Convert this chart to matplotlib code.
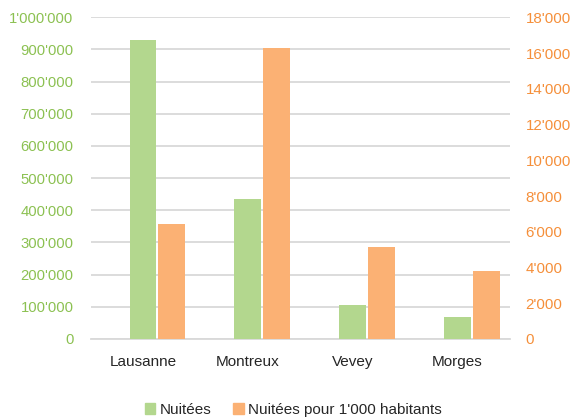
import matplotlib
matplotlib.use("Agg")
import matplotlib.pyplot as plt
from matplotlib.ticker import FuncFormatter
from matplotlib.patches import Patch
import numpy as np

categories = ["Lausanne", "Montreux", "Vevey", "Morges"]
nuitees = [929000, 436000, 105000, 67000]
nuitees_per_1000 = [6430, 16270, 5150, 3790]

plt.rcParams['font.family'] = ['Liberation Sans', 'DejaVu Sans']

GREEN_BAR = "#B3D78E"
ORANGE_BAR = "#FBB174"
GREEN_TXT = "#8CC152"
ORANGE_TXT = "#F58F3A"
GRID = "#D9D9D9"

def swiss(v, pos=None):
    return f"{int(round(v)):,}".replace(",", "'")

fig = plt.figure(figsize=(5.73, 4.18), dpi=100)
ax = fig.add_axes([0.158, 0.189, 0.732, 0.7696])
ax2 = ax.twinx()

x = np.arange(len(categories))
w = 0.255
ax.bar(x, nuitees, width=w, color=GREEN_BAR, zorder=3)
ax2.bar(x + 0.275, nuitees_per_1000, width=w, color=ORANGE_BAR, zorder=3)

ax.set_xlim(-0.5, len(categories) - 0.5)
ax.set_ylim(0, 1000000)
ax2.set_ylim(0, 18000)
ax.set_yticks(np.arange(0, 1000001, 100000))
ax2.set_yticks(np.arange(0, 18001, 2000))
ax.yaxis.set_major_formatter(FuncFormatter(swiss))
ax2.yaxis.set_major_formatter(FuncFormatter(swiss))

ax.set_xticks(x)
ax.set_xticklabels(categories)

ax.grid(axis='y', color=GRID, linewidth=1.3, zorder=0)
ax.set_axisbelow(True)
for a in (ax, ax2):
    for s in ["top", "left", "right"]:
        a.spines[s].set_visible(False)
    a.spines["bottom"].set_color(GRID)
    a.spines["bottom"].set_linewidth(1.3)
ax2.spines["bottom"].set_visible(False)

ax.tick_params(axis='y', length=0, pad=12.2, labelsize=10.7, labelcolor=GREEN_TXT)
ax2.tick_params(axis='y', length=0, pad=11.3, labelsize=10.9, labelcolor=ORANGE_TXT)
ax.tick_params(axis='x', length=0, pad=11.5, labelsize=11, labelcolor="#262626")

handles = [Patch(color=GREEN_BAR, label="Nuitées"),
           Patch(color=ORANGE_BAR, label="Nuitées pour 1'000 habitants")]
fig.legend(handles=handles, loc="center", bbox_to_anchor=(0.512, 0.02),
           ncol=2, frameon=False, fontsize=11, handlelength=0.7,
           handleheight=0.7, handletextpad=0.3, columnspacing=1.4,
           labelcolor="#262626")

fig.savefig("out.png", dpi=100, facecolor="white")
